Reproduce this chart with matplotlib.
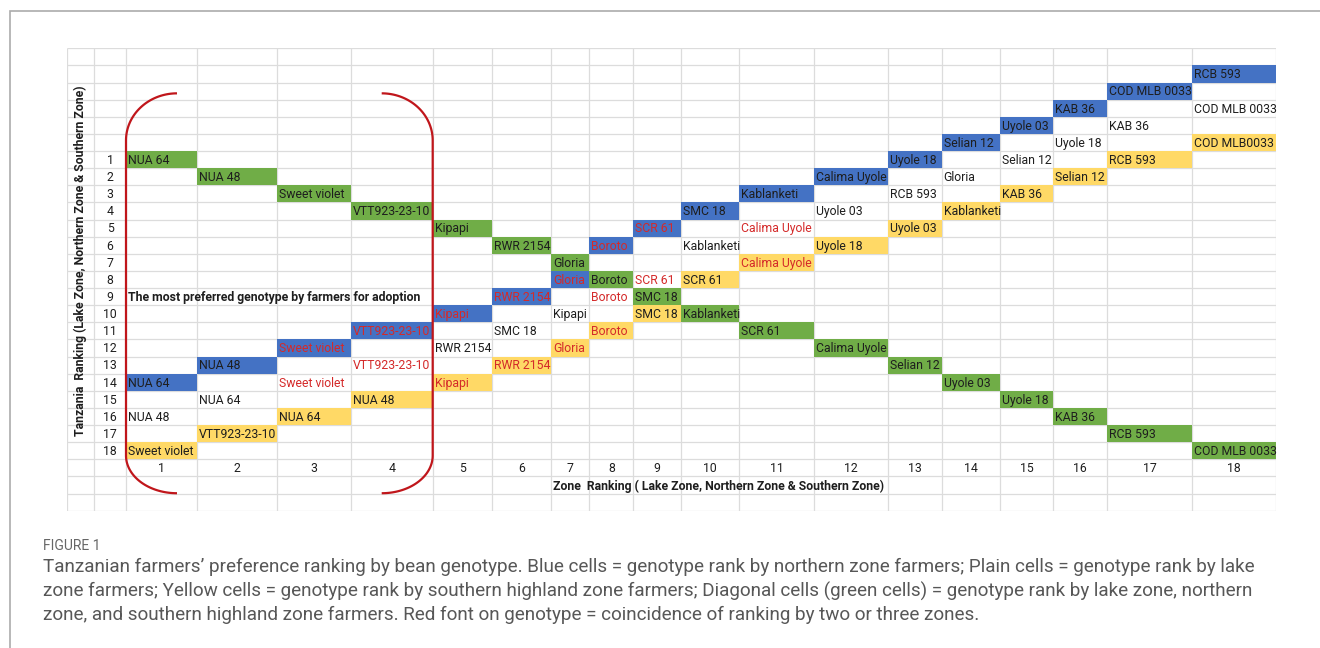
from matplotlib import pyplot as plt
from matplotlib.patches import Rectangle
import numpy as np

### - Data (zone rank = column, Tanzania rank = row; rows <= 0 sit above the "1" row)
zone_ranks = list(range(1, 19))
row_labels = list(range(1, 19))

# Diagonal (green) cells - lake, northern and southern zone agree
green_names = ['NUA 64', 'NUA 48', 'Sweet violet', 'VTT923-23-10', 'Kipapi', 'RWR 2154',
               'Gloria', 'Boroto', 'SMC 18', 'Kablanketi', 'SCR 61', 'Calima Uyole',
               'Selian 12', 'Uyole 03', 'Uyole 18', 'KAB 36', 'RCB 593', 'COD MLB 0033']
green_rows = [1, 2, 3, 4, 5, 6, 7, 8, 9, 10, 11, 12, 13, 14, 15, 16, 17, 18]
green_red = [0] * 18

# Blue cells - northern zone
blue_names = ['NUA 64', 'NUA 48', 'Sweet violet', 'VTT923-23-10', 'Kipapi', 'RWR 2154',
              'Gloria', 'Boroto', 'SCR 61', 'SMC 18', 'Kablanketi', 'Calima Uyole',
              'Uyole 18', 'Selian 12', 'Uyole 03', 'KAB 36', 'COD MLB 0033', 'RCB 593']
blue_rows = [14, 13, 12, 11, 10, 9, 8, 6, 5, 4, 3, 2, 1, 0, -1, -2, -3, -4]
blue_red = [0, 0, 1, 1, 1, 1, 1, 1, 1, 0, 0, 0, 0, 0, 0, 0, 0, 0]

# Plain cells - lake zone
plain_names = ['NUA 48', 'NUA 64', 'Sweet violet', 'VTT923-23-10', 'RWR 2154', 'SMC 18',
               'Kipapi', 'Boroto', 'SCR 61', 'Kablanketi', 'Calima Uyole', 'Uyole 03',
               'RCB 593', 'Gloria', 'Selian 12', 'Uyole 18', 'KAB 36', 'COD MLB 0033']
plain_rows = [16, 15, 14, 13, 12, 11, 10, 9, 8, 6, 5, 4, 3, 2, 1, 0, -1, -2]
plain_red = [0, 0, 1, 1, 0, 0, 0, 1, 1, 0, 1, 0, 0, 0, 0, 0, 0, 0]

# Yellow cells - southern highland zone
yellow_names = ['Sweet violet', 'VTT923-23-10', 'NUA 64', 'NUA 48', 'Kipapi', 'RWR 2154',
                'Gloria', 'Boroto', 'SMC 18', 'SCR 61', 'Calima Uyole', 'Uyole 18',
                'Uyole 03', 'Kablanketi', 'KAB 36', 'Selian 12', 'RCB 593', 'COD MLB0033']
yellow_rows = [18, 17, 16, 15, 14, 13, 12, 11, 10, 8, 7, 6, 5, 4, 3, 2, 1, 0]
yellow_red = [0, 0, 0, 0, 1, 1, 1, 1, 0, 0, 1, 0, 0, 0, 0, 0, 0, 0]

caption_lines = [
    "Tanzanian farmers\u2019 preference ranking by bean genotype. Blue cells = genotype rank by northern zone farmers; Plain cells = genotype rank by lake",
    "zone farmers; Yellow cells = genotype rank by southern highland zone farmers; Diagonal cells (green cells) = genotype rank by lake zone, northern",
    "zone, and southern highland zone farmers. Red font on genotype = coincidence of ranking by two or three zones.",
]

### - Layout / style
W, H = 1320, 648
GREEN, BLUE, YELLOW = '#70AD47', '#4472C4', '#FFD966'
RED_TXT, TXT, GRIDC = '#D42A2A', '#1E1E1E', '#DCDCDC'
FONT = 'Roboto'
FS = 8.8

col_w = [27.6, 31.7, 70.7, 80.6, 73.7, 81.7, 59.0, 59.3, 38.3, 44.0, 47.4,
         58.6, 75.0, 74.0, 53.4, 58.6, 53.0, 54.0, 84.4, 84.3]   # spreadsheet column widths (px)
x_edges = np.concatenate([[0], np.cumsum(col_w)])
n_rows = 27
top_pad = 5            # spreadsheet rows above the "1" row
grid_l, grid_t, grid_b = 66.7, 48.3, 510.7

fig = plt.figure(figsize=(W / 100, H / 100), dpi=100)
ax = fig.add_axes([grid_l / W, 1 - grid_b / H, x_edges[-1] / W, (grid_b - grid_t) / H])
ax.set_xlim(0, x_edges[-1])
ax.set_ylim(n_rows, 0)
ax.axis('off')

# spreadsheet grid
ax.vlines(x_edges, 0, n_rows, color=GRIDC, lw=0.9, zorder=1)
ax.hlines(np.arange(n_rows + 1), 0, x_edges[-1], color=GRIDC, lw=0.9, zorder=1)


def put_cell(col, rank, name, fill, red):
    x0 = x_edges[col + 1]
    k = rank + top_pad
    if fill is not None:
        ax.add_patch(Rectangle((x0, k), col_w[col + 1], 1, facecolor=fill, edgecolor='none', zorder=2))
    ax.text(x0 + 2, k + 0.55, name, color=RED_TXT if red else TXT, ha='left', va='center',
            fontsize=FS, family=FONT, zorder=3)


for names, rows, reds, fill in [(green_names, green_rows, green_red, GREEN),
                                (blue_names, blue_rows, blue_red, BLUE),
                                (plain_names, plain_rows, plain_red, None),
                                (yellow_names, yellow_rows, yellow_red, YELLOW)]:
    for c, r, nm, rd in zip(zone_ranks, rows, names, reds):
        put_cell(c, r, nm, fill, rd)

# row numbers and column numbers
for r in row_labels:
    ax.text(x_edges[1] + col_w[1] / 2, r + top_pad + 0.55, str(r), ha='center', va='center',
            fontsize=FS, family=FONT, color=TXT, zorder=3)
tick_row = top_pad + len(row_labels) + 1
for c in zone_ranks:
    ax.text((x_edges[c + 1] + x_edges[c + 2]) / 2, tick_row + 0.55, str(c), ha='center', va='center',
            fontsize=FS, family=FONT, color=TXT, zorder=3)

ax.text(x_edges[8] + 2, tick_row + 1.55, 'Zone  Ranking ( Lake Zone, Northern Zone & Southern Zone)',
        ha='left', va='center', fontsize=FS, fontweight='bold', family=FONT, color=TXT, zorder=3)
ax.text(col_w[0] / 2, 12.4, 'Tanzania  Ranking (Lake Zone, Northern Zone & Southern Zone)',
        rotation=90, ha='center', va='center', fontsize=FS, fontweight='bold', family=FONT,
        color=TXT, zorder=3)
ax.text(x_edges[2] + 2, 9 + top_pad + 0.55, 'The most preferred genotype by farmers for adoption',
        ha='left', va='center', fontsize=FS, fontweight='bold', family=FONT, color=TXT, zorder=3)


# red round brackets around zone ranks 1-4
def bracket(x_edge, side, k_top=2.63, k_bot=25.98, rx=51, ry_t=2.75, ry_b=2.2):
    t = np.linspace(0, np.pi / 2, 40)
    cx = x_edge + side * rx
    top_x = cx - side * rx * np.cos(t[::-1])
    top_y = (k_top + ry_t) - ry_t * np.sin(t[::-1])
    bot_x = cx - side * rx * np.cos(t)
    bot_y = (k_bot - ry_b) + ry_b * np.sin(t)
    ax.plot(np.concatenate([top_x, bot_x]), np.concatenate([top_y, bot_y]),
            color='#C0161B', lw=1.6, zorder=4, solid_capstyle='butt')


bracket(x_edges[2], 1)
bracket(x_edges[6], -1)

# outer frame and caption
fig.add_artist(Rectangle((10 / W, -0.1), 1.2, 1.1 - 11 / H, transform=fig.transFigure,
                         fill=False, edgecolor='#ABABAB', lw=1.2))
fig.text(43 / W, 1 - 546 / H, 'FIGURE 1', fontsize=10, color='#666666', va='center', family=FONT)
for i, line in enumerate(caption_lines):
    fig.text(43 / W, 1 - (567 + 24 * i) / H, line, fontsize=13.6, color='#575757', va='center',
             family=FONT)

fig.savefig('out.png', dpi=100)
